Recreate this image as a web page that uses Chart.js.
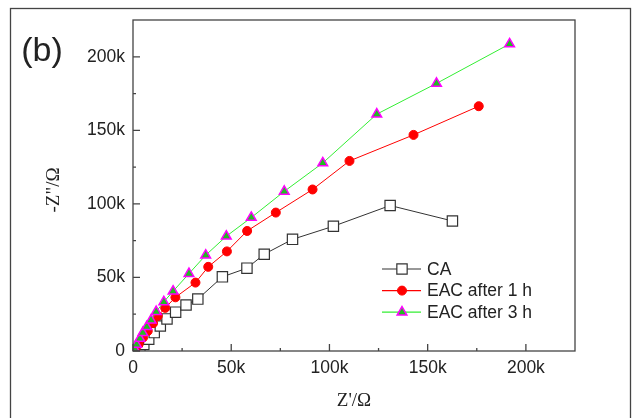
<!DOCTYPE html>
<html>
<head>
<meta charset="utf-8">
<script src="https://cdn.jsdelivr.net/npm/chart.js@4"></script>
<style>
  html, body { margin: 0; padding: 0; background: #fff; }
  #wrap { width: 632px; height: 418px; }
</style>
</head>
<body>
<div id="wrap"><canvas id="eis" width="632" height="418"></canvas></div>
<script>
// values in kOhm
const caZre  = [1.5, 3.5, 5.5, 8, 10.8, 13.9, 17.3, 21.7, 27, 33, 45.5, 58, 66.8, 81.2, 102, 130.9, 162.6];
const caZim  = [0.5, 2, 4.5, 8, 12.5, 17, 21.8, 26.4, 31.3, 35.3, 50.4, 56.3, 65.8, 75.9, 84.8, 98.9, 88.4];
const eac1Zre = [1.2, 2.9, 5.1, 7.5, 10.2, 12.6, 16.4, 21.6, 31.8, 38.3, 47.8, 58.1, 72.7, 91.4, 110.2, 142.8, 176];
const eac1Zim = [0.8, 4.6, 9.1, 13.6, 18.9, 23.8, 29.3, 36.5, 46.5, 57.2, 67.7, 81.6, 94.1, 109.8, 129.2, 146.9, 166.4];
const eac3Zre = [0.8, 1.8, 3.5, 5, 7, 9.2, 11.8, 15.7, 20.4, 28.5, 37, 47.5, 60.2, 77, 96.6, 124.1, 154.5, 191.7];
const eac3Zim = [1.5, 4.5, 8.5, 12.5, 16.5, 21, 26.7, 33.4, 40.6, 52.6, 65.1, 78, 90.7, 108.5, 127.8, 161, 181.9, 208.7];

const seriesNames = ['CA', 'EAC after 1 h', 'EAC after 3 h'];
const majorTicks = [0, 50000, 100000, 150000, 200000];
const majorLabels = ['0', '50k', '100k', '150k', '200k'];
const minorTicks = [25000, 75000, 125000, 175000];
const axisMax = 225000;

const toPts = (xs, ys) => xs.map((x, i) => ({ x: x * 1000, y: ys[i] * 1000 }));

const SANS = '"Liberation Sans", Arial, sans-serif';
const SERIF = '"Liberation Serif", "Times New Roman", serif';

const frame = {
  id: 'frame',
  afterDraw(chart) {
    const { ctx, chartArea: a, scales } = chart;
    ctx.save();
    ctx.strokeStyle = '#444';
    ctx.lineWidth = 1.3;
    ctx.strokeRect(10.5, 8.5, 620, 420);
    ctx.strokeRect(a.left, a.top, a.right - a.left, a.bottom - a.top);

    // inward ticks
    ctx.beginPath();
    majorTicks.forEach(v => {
      const px = scales.x.getPixelForValue(v);
      ctx.moveTo(px, a.bottom); ctx.lineTo(px, a.bottom - 7);
      const py = scales.y.getPixelForValue(v);
      ctx.moveTo(a.left, py); ctx.lineTo(a.left + 7, py);
    });
    minorTicks.forEach(v => {
      const px = scales.x.getPixelForValue(v);
      ctx.moveTo(px, a.bottom); ctx.lineTo(px, a.bottom - 3);
      const py = scales.y.getPixelForValue(v);
      ctx.moveTo(a.left, py); ctx.lineTo(a.left + 3, py);
    });
    ctx.stroke();

    // titles
    ctx.fillStyle = '#222';
    ctx.textAlign = 'center';
    ctx.textBaseline = 'middle';
    ctx.font = '19px ' + SERIF;
    ctx.fillText("Z'/\u03A9", (a.left + a.right) / 2, 401);
    ctx.save();
    ctx.translate(54, 190);
    ctx.rotate(-Math.PI / 2);
    ctx.fillText('-Z"/\u03A9', 0, 0);
    ctx.restore();
    ctx.font = '34px ' + SANS;
    ctx.fillText('(b)', 42, 52);

    // legend: line with marker
    ctx.font = '17.5px ' + SANS;
    ctx.textAlign = 'left';
    chart.data.datasets.forEach((ds, i) => {
      const y = 269 + i * 21.6;
      ctx.strokeStyle = ds.borderColor;
      ctx.lineWidth = 1.2;
      ctx.beginPath();
      ctx.moveTo(382, y); ctx.lineTo(421, y);
      ctx.stroke();
      ctx.fillStyle = ds.pointBackgroundColor;
      ctx.strokeStyle = ds.pointBorderColor;
      ctx.lineWidth = ds.pointBorderWidth;
      Chart.helpers.drawPoint(ctx, {
        pointStyle: ds.pointStyle, rotation: 0,
        radius: ds.pointRadius, borderWidth: ds.pointBorderWidth
      }, 402, y);
      ctx.fillStyle = '#222';
      ctx.fillText(seriesNames[i], 427, y + 1);
    });
    ctx.restore();
  }
};

new Chart(document.getElementById('eis'), {
  type: 'scatter',
  data: {
    datasets: [
      {
        label: seriesNames[0],
        data: toPts(caZre, caZim),
        showLine: true,
        borderColor: '#333',
        borderWidth: 1,
        pointStyle: 'rect',
        pointRadius: 7.3,
        pointBackgroundColor: '#fff',
        pointBorderColor: '#333',
        pointBorderWidth: 1.2,
        order: 3
      },
      {
        label: seriesNames[1],
        data: toPts(eac1Zre, eac1Zim),
        showLine: true,
        borderColor: '#ff0000',
        borderWidth: 1,
        pointStyle: 'circle',
        pointRadius: 4.5,
        pointBackgroundColor: '#ff0000',
        pointBorderColor: '#ff0000',
        pointBorderWidth: 1,
        order: 2
      },
      {
        label: seriesNames[2],
        data: toPts(eac3Zre, eac3Zim),
        showLine: true,
        borderColor: '#33ee33',
        borderWidth: 1,
        pointStyle: 'triangle',
        pointRadius: 5.6,
        pointBackgroundColor: '#22bb22',
        pointBorderColor: '#ff00ff',
        pointBorderWidth: 1.5,
        order: 1
      }
    ]
  },
  options: {
    responsive: false,
    animation: false,
    layout: { padding: { left: 0, right: 57, top: 20, bottom: 0 } },
    plugins: { legend: { display: false }, tooltip: { enabled: false } },
    scales: {
      x: {
        type: 'linear',
        min: 0,
        max: axisMax,
        afterFit: s => { s.height = 67; },
        afterBuildTicks: s => { s.ticks = majorTicks.map(v => ({ value: v })); },
        grid: { display: false, drawTicks: false },
        border: { display: false },
        ticks: {
          padding: 7,
          color: '#222',
          font: { family: SANS, size: 17.5 },
          maxRotation: 0,
          callback: v => majorLabels[majorTicks.indexOf(v)]
        }
      },
      y: {
        type: 'linear',
        min: 0,
        max: axisMax,
        afterFit: s => { s.width = 133; },
        afterBuildTicks: s => { s.ticks = majorTicks.map(v => ({ value: v })); },
        grid: { display: false, drawTicks: false },
        border: { display: false },
        ticks: {
          padding: 8,
          color: '#222',
          font: { family: SANS, size: 17.5 },
          callback: v => majorLabels[majorTicks.indexOf(v)]
        }
      }
    }
  },
  plugins: [frame]
});
</script>
</body>
</html>
